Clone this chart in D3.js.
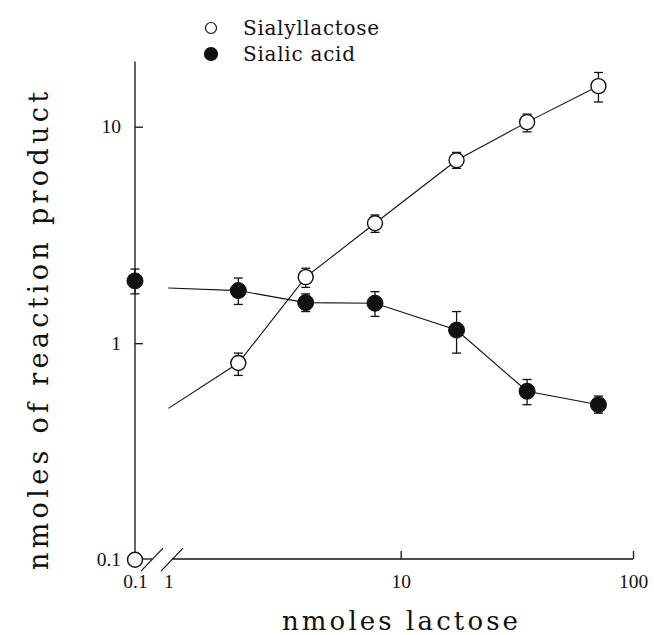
<!DOCTYPE html>
<html>
<head>
<meta charset="utf-8">
<script src="https://cdn.jsdelivr.net/npm/d3@7"></script>
<style>
  html, body { margin: 0; padding: 0; background: #fff; }
  svg { display: block; }
  text { fill: #111; }
</style>
</head>
<body>
<svg id="chart" width="654" height="635"></svg>
<script>
// ---------- DATA ----------
// lactose amounts (nmoles); 0.1 stands for the "no lactose" point left of the axis break
const lactose = [0.1, 2, 3.9, 7.75, 17.4, 35, 71];
// Sialyllactose (open circles)
const sialyllactose     = [0.1, 0.81, 2.02, 3.58, 7.0, 10.5, 15.4];
const sialyllactoseLow  = [null, 0.71, 1.81, 3.25, 6.42, 9.47, 13.0];
const sialyllactoseHigh = [null, 0.90, 2.22, 3.91, 7.61, 11.43, 17.8];
// Sialic acid (filled circles)
const sialicAcid     = [1.94, 1.75, 1.54, 1.53, 1.15, 0.60, 0.52];
const sialicAcidLow  = [1.69, 1.51, 1.40, 1.33, 0.90, 0.52, 0.475];
const sialicAcidHigh = [2.20, 2.00, 1.69, 1.73, 1.40, 0.68, 0.57];
// connecting curves start at lactose = 1
const lineStartX = 1;
const sialyllactoseLineStart = 0.5;
const sialicAcidLineStart = 1.80;
// axis ticks
const xTickValues = [0.1, 1, 10, 100];
const xTickLabels = ["0.1", "1", "10", "100"];
const yTickValues = [0.1, 1, 10];
const yTickLabels = ["0.1", "1", "10"];
const yTop = 20;
const seriesNames = ["Sialyllactose", "Sialic acid"];
const xTitle = "nmoles lactose";
const yTitle = "nmoles of reaction product";

// ---------- SCALES ----------
const x = d3.scaleLog().domain([0.1, 1, 100]).range([135, 168.4, 633]);
const y = d3.scaleLog().domain([0.1, 10]).range([559.7, 126.7]);

const svg = d3.select("#chart");
const ink = "#111";
const serif = "'DejaVu Serif', serif";
const tickFont = "'Liberation Serif', serif";

// ---------- AXES ----------
const x0 = x(0.1), y0 = y(0.1);
// y axis line
svg.append("line").attr("x1", x0).attr("x2", x0).attr("y1", y(yTop)).attr("y2", y0)
  .attr("stroke", ink).attr("stroke-width", 1.3);

// y axis ticks (pointing right) and labels
const yAxis = d3.axisLeft(y).tickValues(yTickValues)
  .tickFormat((d, i) => yTickLabels[i]).tickSizeInner(-8).tickSizeOuter(0).tickPadding(13);
const gy = svg.append("g").attr("transform", `translate(${x0},0)`).call(yAxis);
gy.attr("font-size", null).attr("font-family", null);
gy.select(".domain").remove();
gy.selectAll(".tick line").attr("stroke", ink).attr("stroke-width", 1.3)
  .attr("display", d => d === 0.1 ? "none" : null);
gy.selectAll(".tick text").style("font-family", tickFont).style("font-size", "19.5px")
  .attr("fill", ink).attr("x", -14);

// x axis: main segment after break
const breakA = x0 + 17, breakB = x0 + 37;
svg.append("line").attr("x1", breakB).attr("x2", x(100)).attr("y1", y0 - 0.7).attr("y2", y0 - 0.7)
  .attr("stroke", ink).attr("stroke-width", 1.3);
svg.append("line").attr("x1", x0).attr("x2", breakA).attr("y1", y0 - 0.7).attr("y2", y0 - 0.7)
  .attr("stroke", ink).attr("stroke-width", 1.3);
// break slashes
[breakA, breakB].forEach(cx => {
  svg.append("line").attr("x1", cx - 11).attr("y1", y0 + 11.5).attr("x2", cx + 11).attr("y2", y0 - 11.5)
    .attr("stroke", ink).attr("stroke-width", 1.2);
});

const xAxis = d3.axisBottom(x).tickValues(xTickValues)
  .tickFormat((d, i) => xTickLabels[i]).tickSizeInner(-8).tickSizeOuter(0).tickPadding(15);
const gx = svg.append("g").attr("transform", `translate(0,${y0 - 0.7})`).call(xAxis);
gx.attr("font-size", null).attr("font-family", null);
gx.select(".domain").remove();
gx.selectAll(".tick line").attr("stroke", ink).attr("stroke-width", 1.3)
  .attr("display", d => d < 10 ? "none" : null);
gx.selectAll(".tick text").style("font-family", tickFont).style("font-size", "19.5px").attr("fill", ink);

// axis titles
svg.append("text").attr("x", 400).attr("y", 630).attr("text-anchor", "middle")
  .attr("font-family", serif).attr("font-size", 26)
  .attr("textLength", 236).attr("lengthAdjust", "spacing").text(xTitle);
svg.append("text").attr("transform", "translate(48,331) rotate(-90)").attr("text-anchor", "middle")
  .attr("font-family", serif).attr("font-size", 27)
  .attr("textLength", 478).attr("lengthAdjust", "spacing").text(yTitle);

// ---------- LINES ----------
const lineGen = d3.line().x(d => x(d[0])).y(d => y(d[1]));
const slLine = [[lineStartX, sialyllactoseLineStart]].concat(lactose.slice(1).map((v, i) => [v, sialyllactose[i + 1]]));
const saLine = [[lineStartX, sialicAcidLineStart]].concat(lactose.slice(1).map((v, i) => [v, sialicAcid[i + 1]]));
[slLine, saLine].forEach(data => {
  svg.append("path").attr("d", lineGen(data)).attr("fill", "none")
    .attr("stroke", ink).attr("stroke-width", 1.1);
});

// ---------- ERROR BARS ----------
function errBars(lo, hi) {
  lactose.forEach((v, i) => {
    if (lo[i] == null) return;
    const cx = x(v);
    const g = svg.append("g").attr("stroke", ink).attr("stroke-width", 1.3);
    g.append("line").attr("x1", cx).attr("x2", cx).attr("y1", y(lo[i])).attr("y2", y(hi[i]));
    g.append("line").attr("x1", cx - 4.5).attr("x2", cx + 4.5).attr("y1", y(lo[i])).attr("y2", y(lo[i]));
    g.append("line").attr("x1", cx - 4.5).attr("x2", cx + 4.5).attr("y1", y(hi[i])).attr("y2", y(hi[i]));
  });
}
errBars(sialyllactoseLow, sialyllactoseHigh);
errBars(sialicAcidLow, sialicAcidHigh);

// ---------- MARKERS ----------
svg.append("g").selectAll("circle").data(lactose).join("circle")
  .attr("cx", d => x(d)).attr("cy", (d, i) => y(sialicAcid[i]))
  .attr("r", 8).attr("fill", ink).attr("stroke", ink).attr("stroke-width", 1);
svg.append("g").selectAll("circle").data(lactose).join("circle")
  .attr("cx", d => x(d)).attr("cy", (d, i) => y(sialyllactose[i]))
  .attr("r", 7.5).attr("fill", "#fff").attr("stroke", ink).attr("stroke-width", 1.4);

// ---------- LEGEND ----------
const legendY = [28, 54];
const legendLen = [136, 112];
seriesNames.forEach((name, i) => {
  svg.append("circle").attr("cx", 211).attr("cy", legendY[i]).attr("r", i === 0 ? 5.5 : 6.5)
    .attr("fill", i === 0 ? "#fff" : ink).attr("stroke", ink).attr("stroke-width", 1.2);
  svg.append("text").attr("x", 243).attr("y", legendY[i] + 7).attr("font-family", serif)
    .attr("font-size", 20).attr("textLength", legendLen[i]).attr("lengthAdjust", "spacing").text(name);
});
</script>
</body>
</html>
